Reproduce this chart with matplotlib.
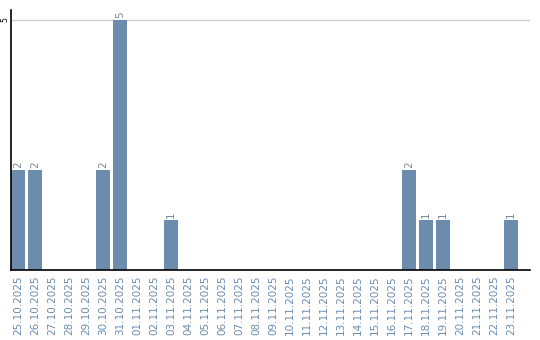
import matplotlib
matplotlib.use("Agg")
import matplotlib.pyplot as plt

dates = ["25.10.2025", "26.10.2025", "27.10.2025", "28.10.2025", "29.10.2025",
         "30.10.2025", "31.10.2025", "01.11.2025", "02.11.2025", "03.11.2025",
         "04.11.2025", "05.11.2025", "06.11.2025", "07.11.2025", "08.11.2025",
         "09.11.2025", "10.11.2025", "11.11.2025", "12.11.2025", "13.11.2025",
         "14.11.2025", "15.11.2025", "16.11.2025", "17.11.2025", "18.11.2025",
         "19.11.2025", "20.11.2025", "21.11.2025", "22.11.2025", "23.11.2025"]
counts = [2, 2, 0, 0, 0, 2, 5, 0, 0, 1,
          0, 0, 0, 0, 0, 0, 0, 0, 0, 0,
          0, 0, 0, 2, 1, 1, 0, 0, 0, 1]
yticks = [5]

bar_color = "#6b8cad"
label_color = "#6b8cb0"

fig = plt.figure(figsize=(5.4, 3.4), dpi=100)
ax = fig.add_axes([11 / 540, 70 / 340, 519 / 540, 260 / 340])

width = 14 / 17
xs = list(range(len(dates)))
ax.bar(xs, counts, width=width, align="edge", color=bar_color, zorder=2)

for x, c in zip(xs, counts):
    if c > 0:
        ax.text(x + width / 2, c + 0.05, str(c), rotation=90, ha="center",
                va="bottom", fontsize=7.5, color="#7a8a99")

ax.set_xlim(0, 519 / 17)
ax.set_ylim(0, 5 * 260 / 250)
ax.set_xticks([x + width / 2 for x in xs])
ax.set_xticklabels(dates, rotation=90, fontsize=7.5, color=label_color, va="top")
ax.tick_params(axis="x", length=0, pad=4)
ax.set_yticks(yticks)
ax.set_yticklabels([str(v) for v in yticks], rotation=90, fontsize=5.5,
                   va="center", ha="right")
ax.tick_params(axis="y", length=0, pad=1.5)
ax.grid(axis="y", color="#cccccc", linewidth=1, zorder=0)

for s in ["top", "right"]:
    ax.spines[s].set_visible(False)
ax.spines["left"].set_linewidth(1.2)
ax.spines["bottom"].set_linewidth(1.2)

fig.savefig("out.png", dpi=100)
